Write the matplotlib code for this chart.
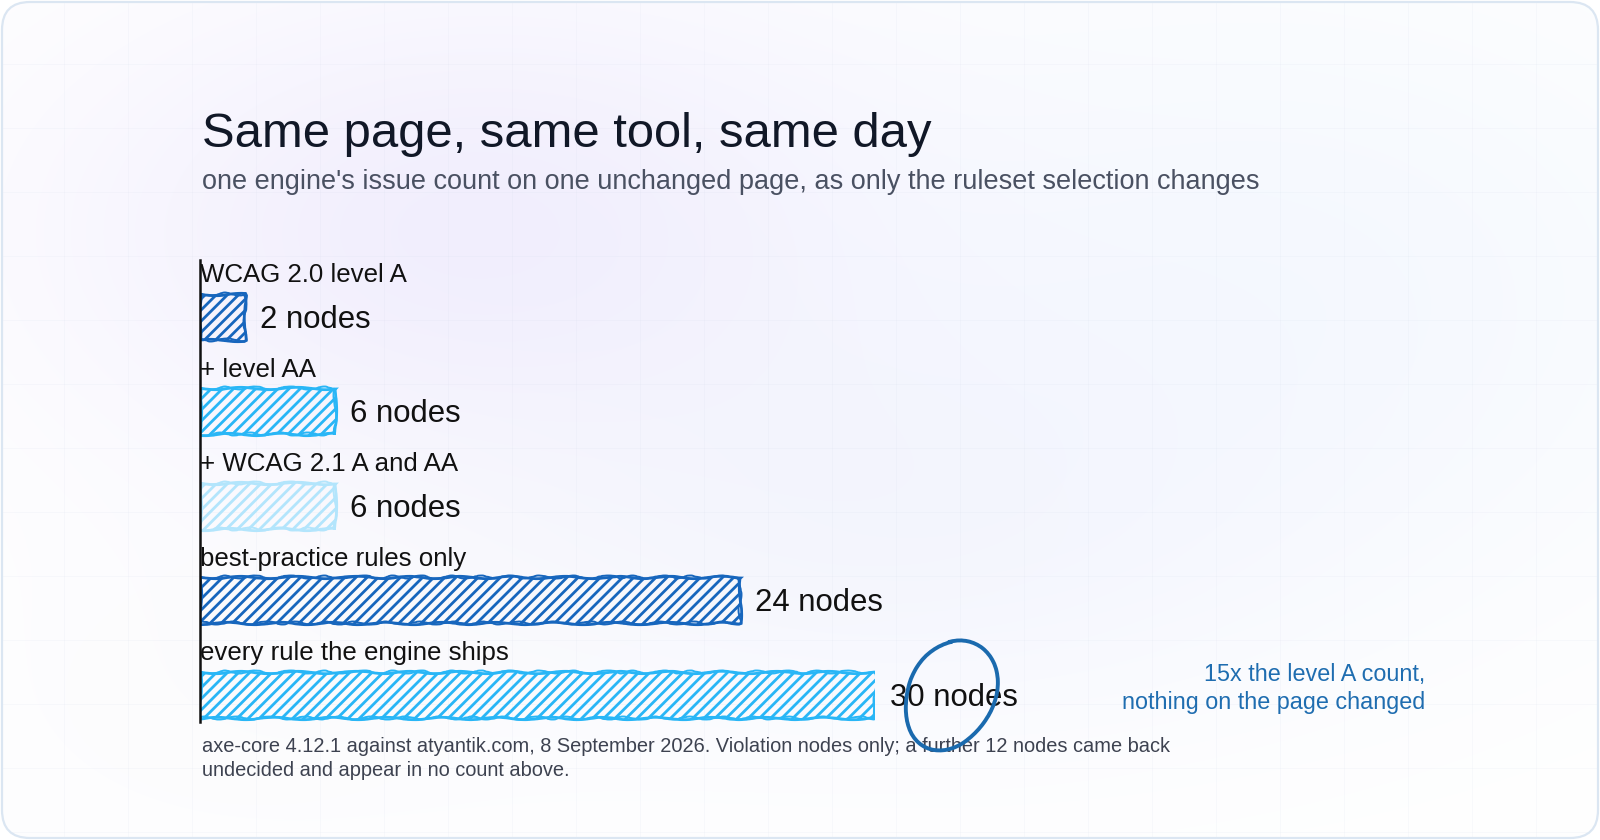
import numpy as np
import matplotlib
matplotlib.use("Agg")
import matplotlib.pyplot as plt
from matplotlib.patches import FancyBboxPatch, Ellipse

plt.rcParams['font.family'] = ['Liberation Sans', 'DejaVu Sans']
plt.rcParams['hatch.linewidth'] = 2.0

# data
categories = ["WCAG 2.0 level A", "+ level AA", "+ WCAG 2.1 A and AA",
              "best-practice rules only", "every rule the engine ships"]
node_counts = [2, 6, 6, 24, 30]
bar_colors = ["#1766bd", "#29b6f6", "#b3e5fc", "#1766bd", "#29b6f6"]

title = "Same page, same tool, same day"
subtitle = "one engine's issue count on one unchanged page, as only the ruleset selection changes"
footnote = ["axe-core 4.12.1 against atyantik.com, 8 September 2026. Violation nodes only; a further 12 nodes came back",
            "undecided and appear in no count above."]
note = ["15x the level A count,", "nothing on the page changed"]

W, H = 1600, 840
fig = plt.figure(figsize=(W / 100, H / 100), dpi=100)
fig.patch.set_facecolor("white")

# background layer in pixel coords (y down)
bg = fig.add_axes([0, 0, 1, 1])
bg.set_xlim(0, W)
bg.set_ylim(H, 0)
bg.axis("off")

yy, xx = np.mgrid[0:H, 0:W].astype(float)
img = np.ones((H, W, 3))


def blob(img, cx, cy, rx, ry, color, k):
    w = k * np.exp(-((xx - cx) / rx) ** 2 - ((yy - cy) / ry) ** 2)
    return img * (1 - w[..., None]) + np.array(color) * w[..., None]


img = blob(img, 480, 230, 440, 250, (0.92, 0.90, 0.99), 0.65)
img = blob(img, 1300, 280, 480, 320, (0.92, 0.95, 1.0), 0.45)
img = blob(img, 880, 520, 450, 220, (0.92, 0.93, 0.99), 0.45)
img = blob(img, 250, 700, 350, 200, (0.96, 0.96, 0.98), 0.25)

frame = FancyBboxPatch((2, 2), W - 4, H - 4, boxstyle="round,pad=0,rounding_size=28",
                       facecolor="none", edgecolor="#dbe6f2", lw=1.6, zorder=5)
bg.add_patch(frame)
im = bg.imshow(img, extent=(0, W, H, 0), aspect="auto", zorder=0)
im.set_clip_path(frame)
for gx in range(0, W, 64):
    bg.plot([gx, gx], [0, H], color="#c8d2e6", lw=0.6, alpha=0.12, zorder=1, clip_path=frame)
for gy in range(0, H, 64):
    bg.plot([0, W], [gy, gy], color="#c8d2e6", lw=0.6, alpha=0.12, zorder=1, clip_path=frame)

bg.text(202, 147, title, fontsize=35.3, color="#111827", va="baseline")
bg.text(202, 189, subtitle, fontsize=19.5, color="#4a5162", va="baseline")
for k, line in enumerate(footnote):
    bg.text(202, 752 + 23.5 * k, line, fontsize=14.4, color="#3d4250", va="baseline")
for k, line in enumerate(note):
    bg.text(1425, 681 + 28 * k, line, fontsize=16.8, color="#1f6db0", va="baseline", ha="right")

# chart area
ax = fig.add_axes([200 / W, 1 - 722 / H, 675 / W, 462 / H])
ax.patch.set_alpha(0)
ax.set_xlim(0, max(node_counts))
ax.set_ylim(4.286, -0.603)
ax.axis("off")

ax.plot([0, 0], [4.286, -0.603], color="#111111", lw=1.8, clip_on=False, zorder=4)

for i, (cat, v, c) in enumerate(zip(categories, node_counts, bar_colors)):
    bars = ax.barh(i, v, height=0.487, facecolor="none", edgecolor=c, hatch="///", lw=2.0, zorder=3)
    for b in bars:
        b.set_sketch_params(1.2, 60, 2)
    ax.barh(i, v, height=0.487, facecolor="none", edgecolor=c, lw=1.4, zorder=3)[0].set_sketch_params(1.5, 40, 3)
    ax.text(0, i - 0.37, cat, fontsize=18.6, color="#111111", va="baseline", ha="left", zorder=5)
    ax.annotate(f"{v} nodes", xy=(v, i), xytext=(11, -2), textcoords="offset points",
                fontsize=22.4, color="#111111", va="center", ha="left", zorder=5)

# circle around the biggest count
top = int(np.argmax(node_counts))
ring = Ellipse((node_counts[top] + 3.38, top), 4.1, 1.13, angle=-4, facecolor="none",
               edgecolor="#1a6aae", lw=2.8, zorder=6, clip_on=False)
ring.set_sketch_params(0.8, 100, 2)
ax.add_patch(ring)

fig.savefig("out.png", dpi=100)
